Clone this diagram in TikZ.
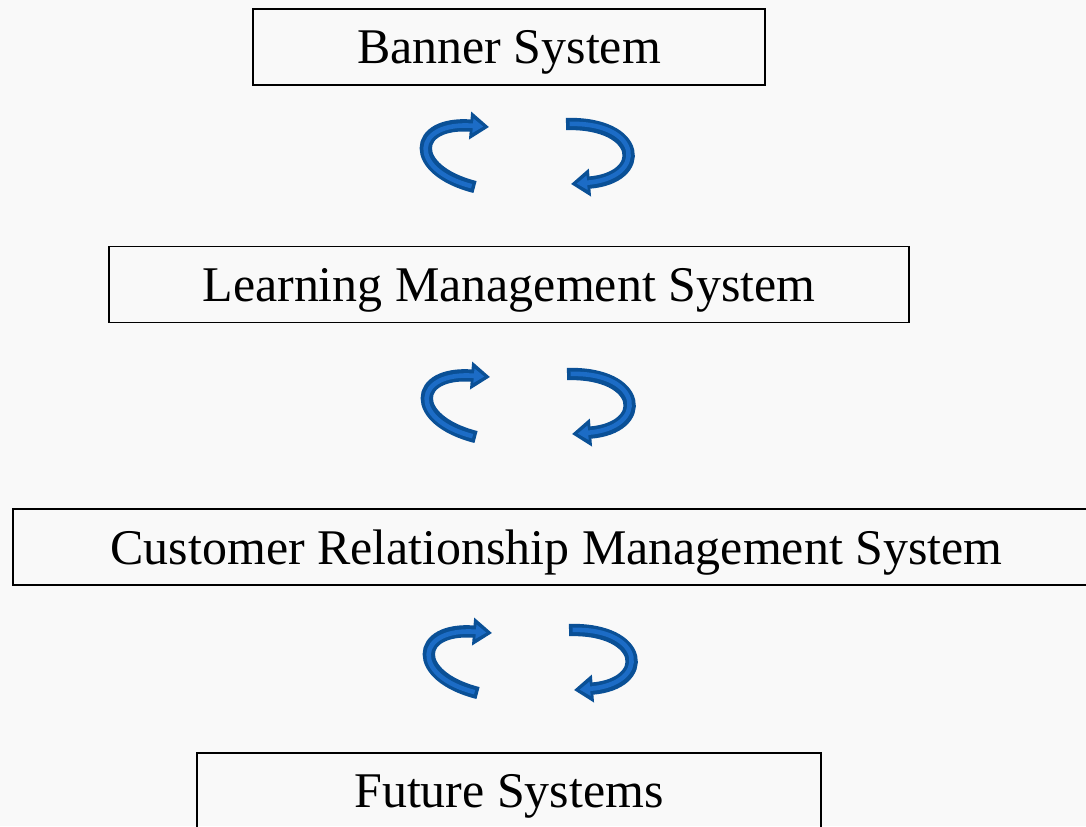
\documentclass[tikz,border=0pt]{standalone}
\usepackage{fontspec}
\setmainfont{Liberation Serif}
\usetikzlibrary{arrows.meta}

\definecolor{arrowdark}{RGB}{10,80,150}
\definecolor{arrowlight}{RGB}{28,108,198}
\definecolor{paper}{RGB}{249,249,249}

\tikzset{
  sysbox/.style={draw=black, line width=.5pt, inner sep=0pt, minimum height=.76cm,
    text depth=0pt, font=\fontsize{14.2}{16}\selectfont},
  loopdark/.style={line width=3.5pt, arrowdark, -{Triangle[length=5.4pt,width=7.6pt]}},
  looplight/.style={line width=1.3pt, arrowlight, shorten >=1.6pt, shorten <=1pt,
    -{Triangle[length=3pt,width=3.9pt]}}
}

\begin{document}
\begin{tikzpicture}[x=.01cm, y=-.01cm]
    \fill[paper] (0,0) rectangle (1086,826);
    \useasboundingbox (0,0) rectangle (1086,826);

    \node[sysbox, minimum width=5.12cm] (banner) at (509,47) {Banner System};
    \node[sysbox, minimum width=8.00cm] (lms) at (509,284.5) {Learning Management System};
    \node[sysbox, minimum width=10.87cm] (crm) at (556.5,547) {Customer Relationship Management System};
    \node[sysbox, minimum width=6.24cm] (future) at (509,791) {Future Systems};

    % two-way loops between the systems
    \foreach \dx/\dy/\i in {0/0/1,1/250/2,3/506/3} {
        \begin{scope}[shift={(\dx,\dy)}]
            \coordinate (la\i) at (475,187);
            \coordinate (lb\i) at (489,127);
            \coordinate (ra\i) at (566,124);
            \coordinate (rb\i) at (571,184);
            \draw[loopdark] (la\i) .. controls (408,170) and (412,121) .. (lb\i);
            \draw[looplight] (la\i) .. controls (408,170) and (412,121) .. (lb\i);
            \draw[loopdark] (ra\i) .. controls (642,122) and (648,178) .. (rb\i);
            \draw[looplight] (ra\i) .. controls (642,122) and (648,178) .. (rb\i);
        \end{scope}
    }
\end{tikzpicture}
\end{document}
